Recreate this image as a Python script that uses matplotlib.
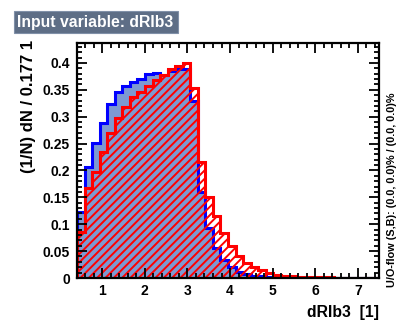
"""TMVA-style input variable plot for dRIb3 (signal vs background)."""

import matplotlib
matplotlib.use("Agg")
import matplotlib.pyplot as plt
import matplotlib.ticker as mticker
import numpy as np
from matplotlib.patches import Rectangle


X_MIN = 0.41
X_MAX = 7.494
N_BINS = 40

SIGNAL = [
    0.123, 0.207, 0.251, 0.288, 0.324, 0.346, 0.357, 0.365, 0.370, 0.380,
    0.381, 0.378, 0.385, 0.388, 0.389, 0.329, 0.160, 0.093, 0.056, 0.034,
    0.021, 0.012, 0.007, 0.004, 0.003, 0.002, 0.001, 0.001, 0.0005, 0.0003,
    0.0, 0.0, 0.0, 0.0, 0.0, 0.0, 0.0, 0.0, 0.0, 0.0,
]
BACKGROUND = [
    0.086, 0.167, 0.197, 0.234, 0.270, 0.298, 0.318, 0.337, 0.346, 0.357,
    0.368, 0.378, 0.388, 0.394, 0.399, 0.353, 0.216, 0.151, 0.115, 0.084,
    0.060, 0.041, 0.028, 0.020, 0.014, 0.009, 0.006, 0.004, 0.003, 0.002,
    0.002, 0.001, 0.001, 0.001, 0.0005, 0.0005, 0.0003, 0.0002, 0.0001, 0.0001,
]

TITLE = "Input variable: dRIb3"
YLABEL = "(1/N) dN / 0.177 1"
XLABEL = "dRIb3  [1]"
OVERFLOW = "U/O-flow (S,B): (0.0, 0.0)% / (0.0, 0.0)%"

SIG_FILL = "#7d99d1"
SIG_LINE = "#0000ff"
BKG_LINE = "#ff0000"
TITLE_BOX = "#5e6e86"

plt.rcParams["font.family"] = ["Liberation Sans", "DejaVu Sans"]
plt.rcParams["font.weight"] = "bold"
plt.rcParams["hatch.linewidth"] = 1.4

edges = np.linspace(X_MIN, X_MAX, N_BINS + 1)

fig = plt.figure(figsize=(3.97, 3.21), dpi=100)
ax = fig.add_axes([77 / 397, 1 - 278 / 321, 302 / 397, 235 / 321])

# signal: filled, blue outline
ax.stairs(SIGNAL, edges, fill=True, facecolor=SIG_FILL, edgecolor="none", lw=0)
ax.stairs(SIGNAL, edges, color=SIG_LINE, lw=2.2)

# background: red hatch over signal, red outline
ax.stairs(BACKGROUND, edges, fill=True, facecolor="none", edgecolor=BKG_LINE,
          hatch="////", lw=0)
ax.stairs(BACKGROUND, edges, color=BKG_LINE, lw=2.2)

ax.set_xlim(X_MIN, X_MAX)
ax.set_ylim(0, 0.437)

ax.xaxis.set_major_locator(mticker.MultipleLocator(1))
ax.xaxis.set_minor_locator(mticker.MultipleLocator(0.2))
ax.yaxis.set_major_locator(mticker.MultipleLocator(0.05))
ax.yaxis.set_minor_locator(mticker.MultipleLocator(0.01))
ax.yaxis.set_major_formatter(mticker.FuncFormatter(lambda v, _: f"{v:g}"))

ax.tick_params(which="both", direction="in", top=True, right=True, width=1.3)
ax.tick_params(which="major", length=7, labelsize=10)
ax.tick_params(axis="x", which="major", pad=4)
ax.tick_params(axis="y", which="major", pad=5)
ax.tick_params(which="minor", length=3.5)
for spine in ax.spines.values():
    spine.set_linewidth(1.6)

# title box
fig.patches.append(Rectangle((14 / 397, 1 - 33 / 321), 164 / 397, 22 / 321,
                             transform=fig.transFigure, facecolor=TITLE_BOX,
                             edgecolor="#8090a8", lw=0.8))
fig.text(17 / 397, 1 - 22 / 321, TITLE, color="white", fontsize=11.3,
         fontweight="bold", ha="left", va="center")

fig.text(29 / 397, 1 - 40 / 321, YLABEL, rotation=90, fontsize=12,
         fontweight="bold", ha="center", va="top")
fig.text(379 / 397, 1 - 312 / 321, XLABEL, fontsize=11.3, fontweight="bold",
         ha="right", va="center")
fig.text(392 / 397, 1 - 287 / 321, OVERFLOW, rotation=90, fontsize=7.8,
         ha="center", va="bottom")

fig.savefig("out.png", dpi=100, facecolor="white")
